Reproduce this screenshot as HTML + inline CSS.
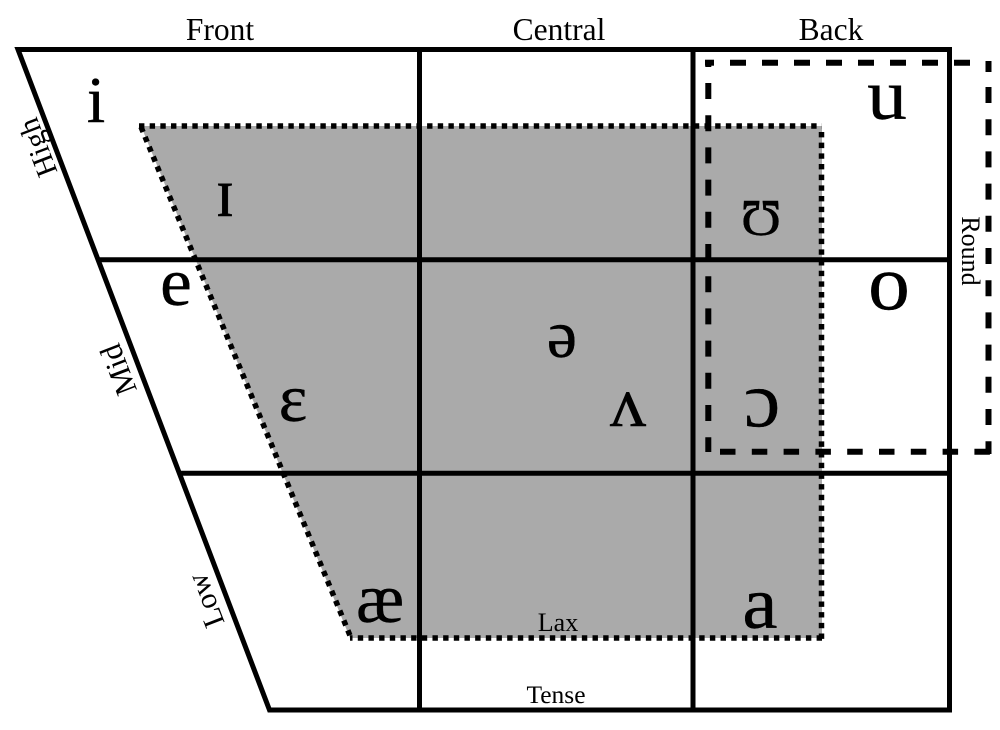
<!DOCTYPE html>
<html><head><meta charset="utf-8"><style>
html,body{margin:0;padding:0;background:#fff;width:1000px;height:730px;overflow:hidden}
svg{display:block}
text{font-family:"Liberation Serif","DejaVu Serif",serif;fill:#000;text-anchor:middle}
.l{font-size:31.5px}
.v{stroke:#000;stroke-width:.4px}
</style></head><body>
<svg width="1000" height="730" viewBox="0 0 1000 730" xmlns="http://www.w3.org/2000/svg">
<rect width="1000" height="730" fill="#fff"/>
<polygon points="141,126 822,126 822,638 350,638" fill="#aaa" stroke="none"/>
<g fill="none" stroke="#000" stroke-width="5.5" stroke-dasharray="5.4 5.27">
<line x1="139" y1="126" x2="822" y2="126"/>
<line x1="821.5" y1="132" x2="821.5" y2="640"/>
<line x1="822" y1="638" x2="350" y2="638"/>
<line x1="141" y1="127" x2="351" y2="638"/>
</g>
<g stroke="#000" stroke-width="5" fill="none">
<polygon points="18,49.5 949.5,49.5 949.5,710 269.5,710"/>
<line x1="419.5" y1="49" x2="419.5" y2="710"/>
<line x1="693" y1="49" x2="693" y2="710"/>
<line x1="98" y1="259.7" x2="949" y2="259.7"/>
<line x1="180" y1="473.3" x2="949" y2="473.3"/>
</g>
<g fill="none" stroke="#000" stroke-width="6">
<line x1="730" y1="62.7" x2="972" y2="62.7" stroke-dasharray="16 16"/>
<line x1="705" y1="62.7" x2="714" y2="62.7"/>
<line x1="708.3" y1="60" x2="708.3" y2="67"/>
<line x1="988.5" y1="61" x2="988.5" y2="72"/>
<line x1="988.5" y1="87" x2="988.5" y2="454" stroke-dasharray="16 16.2"/>
<line x1="708.3" y1="83" x2="708.3" y2="452" stroke-dasharray="16 16.2"/>
<line x1="720" y1="451.7" x2="991" y2="451.7" stroke-dasharray="15.5 16.3"/>
</g>
<text class="l" x="220" y="40">Front</text>
<text class="l" x="559" y="40">Central</text>
<text class="l" x="831" y="40">Back</text>
<text font-size="30" transform="translate(47,144) rotate(-111)">High</text>
<text font-size="31" transform="translate(128,366) rotate(-111)">Mid</text>
<text font-size="30" transform="translate(215,597) rotate(-111)">Low</text>
<text font-size="26" transform="translate(962,251) rotate(90)">Round</text>
<text font-size="26" x="558" y="631">Lax</text>
<text font-size="25.5" x="556" y="703">Tense</text>
<text class="v" font-size="66" x="96" y="122">i</text>
<text class="v" font-size="70" x="225" y="216">ɪ</text>
<text class="v" font-size="68" transform="translate(176,305) scale(1.05,1)">e</text>
<text class="v" font-size="68" x="293" y="421">ɛ</text>
<text class="v" font-size="70" transform="translate(380,622) scale(1.03,1)">æ</text>
<text class="v" font-size="68" x="562" y="357">ə</text>
<text class="v" font-size="72" x="628" y="426">ʌ</text>
<text class="v" font-size="72" transform="translate(887,119) scale(1.1,1)">u</text>
<text class="v" font-size="52" transform="translate(761,235) scale(1.05,1)">Ʊ</text>
<text class="v" font-size="78" transform="translate(889,309) scale(1.07,1)">o</text>
<text class="v" font-size="78" transform="translate(762,426) scale(1.05,1)">ɔ</text>
<text class="v" font-size="74" transform="translate(760,628) scale(1.07,1)">a</text>
</svg>
</body></html>
